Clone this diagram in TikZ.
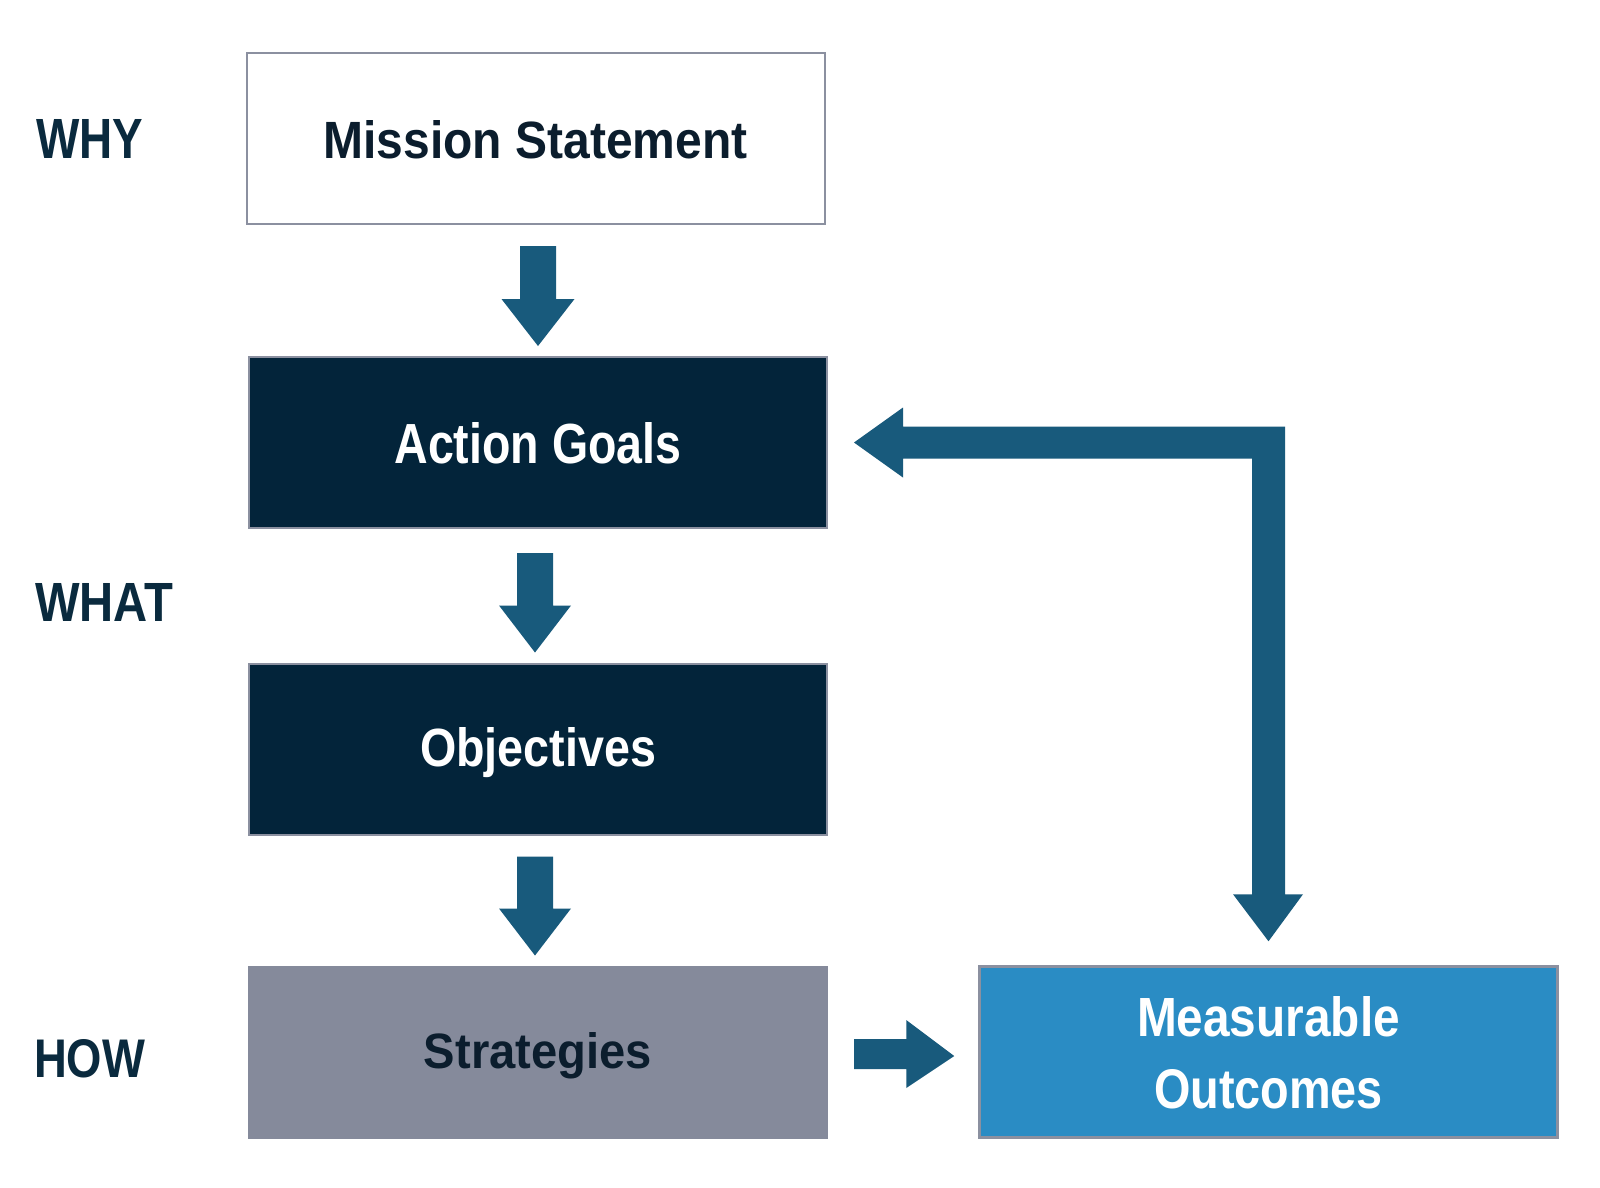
\documentclass[tikz,border=0pt]{standalone}
\usepackage{fontspec}
\setmainfont{Liberation Sans}
\usepackage{graphicx}
\usetikzlibrary{calc}

\definecolor{navy}{HTML}{03243A}
\definecolor{flowblue}{HTML}{185A7C}
\definecolor{slategrey}{HTML}{858A9B}
\definecolor{outblue}{HTML}{2A8CC4}
\definecolor{edgegrey}{HTML}{8B90A0}
\definecolor{inkdark}{HTML}{0B1D2D}
\definecolor{labelink}{HTML}{0A2A3E}

% text squeezed to an exact width and cap height
\newcommand{\fitword}[3]{\resizebox{#1pt}{#2pt}{\bfseries #3}}

\tikzset{
  box/.style={draw=edgegrey, line width=2pt, minimum width=578pt, minimum height=171pt,
              inner sep=0pt, text depth=0pt, align=center},
  rowlabel/.style={anchor=base west, inner sep=0pt, text=labelink},
  flow/.style={fill=flowblue},
}

\begin{document}
\begin{tikzpicture}[x=1pt, y=-1pt]
\useasboundingbox[fill=white] (0,0) rectangle (1600,1187);

% row labels
\node[rowlabel] (why)  at (36,158)  {\fitword{107}{39}{WHY}};
\node[rowlabel] (what) at (35,621)  {\fitword{138}{38}{WHAT}};
\node[rowlabel] (how)  at (34,1077) {\fitword{111}{38}{HOW}};

% boxes
\node[box, fill=white, text=inkdark] (ms) at (535.5,138.5) {\raisebox{-2.5pt}{\fitword{424}{38}{Mission Statement}}};
\node[box, fill=navy, text=white] (ag) at (538,442.5) {\raisebox{-1pt}{\fitword{287}{41}{Action Goals}}};
\node[box, fill=navy, text=white] (ob) at (538,749) {\raisebox{5pt}{\fitword{236}{39}{Objectives}}};
\node[box, draw=slategrey, fill=slategrey, text=inkdark] (st) at (538,1052) {\raisebox{3.5pt}{\fitword{228}{36}{Strategies}}};
\node[box, fill=outblue, text=white, line width=2.5pt,
      font={\fontsize{40}{72}\selectfont}] (mo) at (1268.5,1052)
      {\fitword{263}{40}{Measurable}\\\fitword{229}{39}{Outcomes}};

% downward block arrows between stacked boxes
\fill[flow] let \p1=(ms.south), \p2=(ag.north) in
  (\x2-18pt,\y1-21pt) -- (\x2+18pt,\y1-21pt) -- (\x2+18pt,\y2+57pt) -- (\x2+36.5pt,\y2+57pt)
  -- (\x2,\y2+10pt) -- (\x2-36.5pt,\y2+57pt) -- (\x2-18pt,\y2+57pt) -- cycle;
\fill[flow] let \p1=(ag.south), \p2=(ob.north) in
  (\x2-21pt,\y1-24pt) -- (\x2+15pt,\y1-24pt) -- (\x2+15pt,\y2+57pt) -- (\x2+33pt,\y2+57pt)
  -- (\x2-3pt,\y2+10pt) -- (\x2-39pt,\y2+57pt) -- (\x2-21pt,\y2+57pt) -- cycle;
\fill[flow] let \p1=(ob.south), \p2=(st.north) in
  (\x2-21pt,\y1-21pt) -- (\x2+15pt,\y1-21pt) -- (\x2+15pt,\y2+57pt) -- (\x2+33pt,\y2+57pt)
  -- (\x2-3pt,\y2+10pt) -- (\x2-39pt,\y2+57pt) -- (\x2-21pt,\y2+57pt) -- cycle;

% block arrow from strategies to outcomes
\fill[flow] let \p1=(st.east), \p2=(mo.west) in
  (\x1+26pt,\y2-17pt) -- (\x2-72pt,\y2-17pt) -- (\x2-72pt,\y2-36pt) -- (\x2-24pt,\y2-4pt)
  -- (\x2-72pt,\y2+32pt) -- (\x2-72pt,\y2+13pt) -- (\x1+26pt,\y2+13pt) -- cycle;

% feedback loop joining outcomes back to action goals
\fill[flow] let \p1=(ag.east), \p2=(mo.north) in
  (\x1+26pt,\y1) -- (\x1+75pt,\y1+35pt) -- (\x1+75pt,\y1+16pt)
  -- (\x2+16.5pt,\y1+16pt) -- (\x2+16.5pt,\y2+71pt) -- (\x2+34.5pt,\y2+71pt)
  -- (\x2,\y2+24pt) -- (\x2-35.5pt,\y2+71pt) -- (\x2-16.5pt,\y2+71pt)
  -- (\x2-16.5pt,\y1-16pt) -- (\x1+75pt,\y1-16pt) -- (\x1+75pt,\y1-35pt) -- cycle;
\end{tikzpicture}
\end{document}
